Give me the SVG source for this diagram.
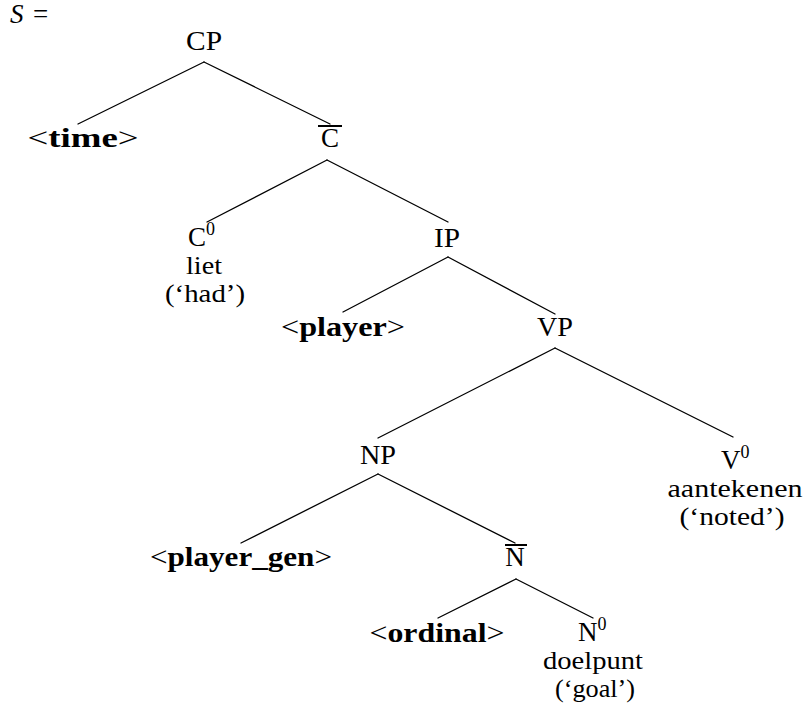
<svg xmlns="http://www.w3.org/2000/svg" width="807" height="720" viewBox="0 0 807 720">
<style>
text{font-family:"Liberation Serif","DejaVu Serif",serif;font-size:27px;fill:#000}
.c{text-anchor:middle}
.g{font-size:25px}
.b{font-weight:bold}
.sup{font-size:18px}
.e line{stroke:#000;stroke-width:1.3;stroke-linecap:round}
.bar{stroke:#000;stroke-width:2}
</style>
<rect width="807" height="720" fill="#fff"/>
<text x="10" y="23" font-style="italic">S</text><text x="33" y="23">=</text>
<g id="edges" class="e">
<line x1="204" y1="62" x2="78" y2="124"/>
<line x1="204" y1="62" x2="330" y2="124"/>
<line x1="327" y1="160" x2="207" y2="222"/>
<line x1="327" y1="160" x2="448" y2="222"/>
<line x1="448" y1="257" x2="343" y2="312"/>
<line x1="448" y1="257" x2="555" y2="314"/>
<line x1="555" y1="348" x2="378" y2="438"/>
<line x1="555" y1="348" x2="733" y2="437"/>
<line x1="378" y1="474" x2="241" y2="543"/>
<line x1="378" y1="474" x2="515" y2="543"/>
<line x1="516" y1="579" x2="438" y2="618"/>
<line x1="516" y1="579" x2="593" y2="618"/>
</g>
<g id="CP"><text class="c" x="204" y="50" textLength="36" lengthAdjust="spacingAndGlyphs">CP</text></g>
<g id="time"><text class="c" x="83" y="147" textLength="111" lengthAdjust="spacingAndGlyphs">&lt;<tspan class="b">time</tspan>&gt;</text></g>
<g id="Cbar"><text class="c" x="330" y="147">C</text><line class="bar" x1="318" y1="126" x2="342" y2="126"/></g>
<g id="C0"><text x="188" y="246">C<tspan class="sup" dy="-11">0</tspan></text><text class="c g" x="204" y="274" textLength="36" lengthAdjust="spacingAndGlyphs">liet</text><text class="c g" x="205" y="302" textLength="80" lengthAdjust="spacingAndGlyphs">(‘had’)</text></g>
<g id="IP"><text class="c" x="447" y="247" textLength="26" lengthAdjust="spacingAndGlyphs">IP</text></g>
<g id="player"><text class="c" x="343" y="336" textLength="124" lengthAdjust="spacingAndGlyphs">&lt;<tspan class="b">player</tspan>&gt;</text></g>
<g id="VP"><text class="c" x="555" y="336" textLength="36" lengthAdjust="spacingAndGlyphs">VP</text></g>
<g id="NP"><text class="c" x="378" y="464" textLength="36" lengthAdjust="spacingAndGlyphs">NP</text></g>
<g id="V0"><text x="721" y="469">V<tspan class="sup" dy="-11">0</tspan></text><text class="c g" x="735" y="497" textLength="135" lengthAdjust="spacingAndGlyphs">aantekenen</text><text class="c g" x="732" y="525" textLength="105" lengthAdjust="spacingAndGlyphs">(‘noted’)</text></g>
<g id="player_gen"><text class="c" x="241" y="566" textLength="182" lengthAdjust="spacingAndGlyphs">&lt;<tspan class="b">player_gen</tspan>&gt;</text></g>
<g id="Nbar"><text class="c" x="515" y="566">N</text><line class="bar" x1="505" y1="545" x2="527" y2="545"/></g>
<g id="ordinal"><text class="c" x="437" y="642" textLength="135" lengthAdjust="spacingAndGlyphs">&lt;<tspan class="b">ordinal</tspan>&gt;</text></g>
<g id="N0"><text x="578" y="641">N<tspan class="sup" dy="-11">0</tspan></text><text class="c g" x="593" y="669" textLength="100" lengthAdjust="spacingAndGlyphs">doelpunt</text><text class="c g" x="595" y="697" textLength="80" lengthAdjust="spacingAndGlyphs">(‘goal’)</text></g>
</svg>
